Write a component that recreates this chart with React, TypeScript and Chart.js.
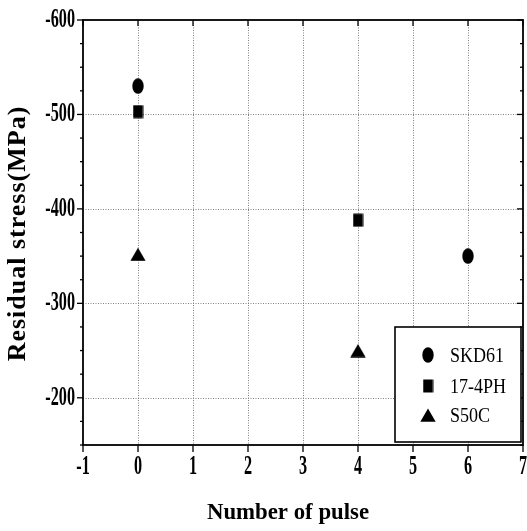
import { useEffect, useRef } from "react";
import { Chart, registerables } from "chart.js";

Chart.register(...registerables);

// ---- data ----
const SERIES_NAMES = ["SKD61", "17-4PH", "S50C"];
const SKD61_X = [0, 6];
const SKD61_Y = [-530, -350];
const PH_X = [0, 4];
const PH_Y = [-503, -388];
const S50C_X = [0, 4];
const S50C_Y = [-352, -250];

const X_TICKS = [-1, 0, 1, 2, 3, 4, 5, 6, 7];
const Y_TICKS = [-600, -500, -400, -300, -200];
const Y_MINOR = [-575, -550, -525, -475, -450, -425, -375, -350, -325, -275, -250, -225, -175, -150];
const X_TITLE = "Number of pulse";
const Y_TITLE = "Residual stress(MPa)";

const SERIF = '"Liberation Serif", "Times New Roman", serif';

function makeMarker(kind: string): HTMLCanvasElement {
  const c = document.createElement("canvas");
  let w = 12, h = 16;
  if (kind === "rect") { w = 11; h = 14; }
  if (kind === "tri") { w = 16; h = 14; }
  c.width = w; c.height = h;
  const g = c.getContext("2d")!;
  g.fillStyle = "#000";
  g.beginPath();
  if (kind === "ellipse") {
    g.ellipse(w / 2, h / 2, w / 2 - 0.3, h / 2 - 0.3, 0, 0, Math.PI * 2);
  } else if (kind === "rect") {
    g.rect(0.5, 0.5, w - 1, h - 1);
  } else {
    g.moveTo(w / 2, 0.5);
    g.lineTo(w - 0.3, h - 0.3);
    g.lineTo(0.3, h - 0.3);
    g.closePath();
  }
  g.fill();
  return c;
}

function drawScaledText(
  ctx: CanvasRenderingContext2D, text: string, x: number, y: number,
  font: string, sx: number, align: CanvasTextAlign, baseline: CanvasTextBaseline
) {
  ctx.save();
  ctx.translate(x, y);
  ctx.scale(sx, 1);
  ctx.font = font;
  ctx.fillStyle = "#000";
  ctx.textAlign = align;
  ctx.textBaseline = baseline;
  ctx.fillText(text, 0, 0);
  ctx.restore();
}

const framePlugin = {
  id: "framePlugin",
  beforeDatasetsDraw(chart: any) {
    const { ctx, chartArea: a, scales } = chart;
    const xs = scales.x, ys = scales.y;
    ctx.save();
    ctx.strokeStyle = "#808080";
    ctx.lineWidth = 1;
    ctx.setLineDash([1, 1.5]);
    X_TICKS.forEach((v) => {
      const px = Math.round(xs.getPixelForValue(v)) + 0.5;
      if (px <= a.left + 2 || px >= a.right - 2) return;
      ctx.beginPath(); ctx.moveTo(px, a.top); ctx.lineTo(px, a.bottom); ctx.stroke();
    });
    Y_TICKS.forEach((v) => {
      const py = Math.round(ys.getPixelForValue(v)) + 0.5;
      if (py <= a.top + 2 || py >= a.bottom - 2) return;
      ctx.beginPath(); ctx.moveTo(a.left, py); ctx.lineTo(a.right, py); ctx.stroke();
    });
    ctx.restore();
  },
  afterDraw(chart: any) {
    const { ctx, chartArea: a, scales } = chart;
    const xs = scales.x, ys = scales.y;
    ctx.save();
    ctx.strokeStyle = "#000";
    ctx.lineWidth = 1.8;
    ctx.strokeRect(a.left, a.top, a.right - a.left, a.bottom - a.top);
    ctx.lineWidth = 1.3;
    X_TICKS.forEach((v) => {
      const px = xs.getPixelForValue(v);
      ctx.beginPath(); ctx.moveTo(px, a.bottom); ctx.lineTo(px, a.bottom + 7); ctx.stroke();
      ctx.beginPath(); ctx.moveTo(px, a.top); ctx.lineTo(px, a.top + 6); ctx.stroke();
    });
    Y_TICKS.forEach((v) => {
      const py = ys.getPixelForValue(v);
      ctx.beginPath(); ctx.moveTo(a.left - 6, py); ctx.lineTo(a.left, py); ctx.stroke();
      ctx.beginPath(); ctx.moveTo(a.right - 6, py); ctx.lineTo(a.right, py); ctx.stroke();
    });
    Y_MINOR.forEach((v) => {
      const py = ys.getPixelForValue(v);
      ctx.beginPath(); ctx.moveTo(a.left - 3, py); ctx.lineTo(a.left, py); ctx.stroke();
      ctx.beginPath(); ctx.moveTo(a.right - 3, py); ctx.lineTo(a.right, py); ctx.stroke();
    });
    ctx.restore();

    const tickFont = `bold 27px ${SERIF}`;
    X_TICKS.forEach((v) => {
      drawScaledText(ctx, String(v), xs.getPixelForValue(v), a.bottom + 22, tickFont, 0.6, "center", "middle");
    });
    Y_TICKS.forEach((v) => {
      drawScaledText(ctx, String(v), a.left - 8, ys.getPixelForValue(v), tickFont, 0.6, "right", "middle");
    });

    drawScaledText(ctx, X_TITLE, a.left + 205, a.bottom + 68, `bold 24px ${SERIF}`, 0.95, "center", "middle");
    ctx.save();
    ctx.translate(18, (a.top + a.bottom) / 2 + 1);
    ctx.rotate(-Math.PI / 2);
    ctx.font = `bold 26px ${SERIF}`;
    (ctx as any).letterSpacing = "1px";
    ctx.fillStyle = "#000";
    ctx.textAlign = "center";
    ctx.textBaseline = "middle";
    ctx.fillText(Y_TITLE, 0, 0);
    ctx.restore();

    const bw = 126, bh = 115;
    const bx = a.right - 2 - bw, by = a.bottom - 3 - bh;
    ctx.save();
    ctx.fillStyle = "#fff";
    ctx.fillRect(bx, by, bw, bh);
    ctx.strokeStyle = "#000";
    ctx.lineWidth = 1.6;
    ctx.strokeRect(bx, by, bw, bh);
    ctx.restore();
    const rows = [28, 59, 88];
    chart.data.datasets.forEach((ds: any, i: number) => {
      const img = ds.pointStyle as HTMLCanvasElement;
      const cy = by + rows[i];
      ctx.drawImage(img, bx + 33 - img.width / 2, cy - img.height / 2);
      drawScaledText(ctx, ds.label, bx + 55, cy + 1, `22px ${SERIF}`, 0.82, "left", "middle");
    });
  },
};

export default function App() {
  const ref = useRef<HTMLCanvasElement | null>(null);
  useEffect(() => {
    if (!ref.current) return;
    const toPts = (xs: number[], ys: number[]) => xs.map((x, i) => ({ x, y: ys[i] }));
    const chart = new Chart(ref.current, {
      type: "scatter",
      data: {
        datasets: [
          { label: SERIES_NAMES[0], data: toPts(SKD61_X, SKD61_Y), pointStyle: makeMarker("ellipse") as any, pointRadius: 8, backgroundColor: "#000", borderColor: "#000" },
          { label: SERIES_NAMES[1], data: toPts(PH_X, PH_Y), pointStyle: makeMarker("rect") as any, pointRadius: 8, backgroundColor: "#000", borderColor: "#000" },
          { label: SERIES_NAMES[2], data: toPts(S50C_X, S50C_Y), pointStyle: makeMarker("tri") as any, pointRadius: 8, backgroundColor: "#000", borderColor: "#000" },
        ],
      },
      options: {
        responsive: true,
        maintainAspectRatio: false,
        animation: false,
        layout: { autoPadding: false, padding: { top: 20, right: 4, left: 0, bottom: 0 } },
        plugins: { legend: { display: false }, tooltip: { enabled: false } },
        scales: {
          x: {
            type: "linear", min: -1, max: 7,
            ticks: { display: false, stepSize: 1 },
            grid: { display: false }, border: { display: false },
            afterFit: (s: any) => { s.height = 86; },
          },
          y: {
            type: "linear", min: -600, max: -150, reverse: true,
            ticks: { display: false, stepSize: 100 },
            grid: { display: false }, border: { display: false },
            afterFit: (s: any) => { s.width = 83; },
          },
        },
      },
      plugins: [framePlugin],
    });
    return () => chart.destroy();
  }, []);
  return (
    <div style={{ position: "fixed", left: 0, top: 0, width: 527, height: 531, background: "#fff" }}>
      <canvas ref={ref} />
    </div>
  );
}
